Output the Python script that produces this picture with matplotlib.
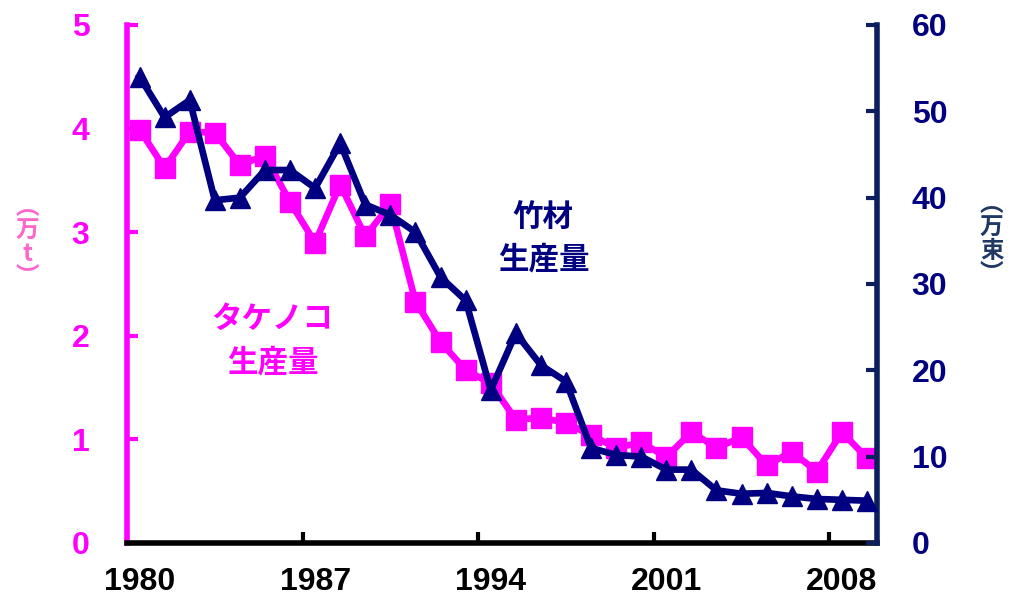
import numpy as np
import matplotlib.pyplot as plt

years = list(range(1980, 2010))
# タケノコ生産量 (万t)
takenoko = [3.99, 3.62, 3.97, 3.96, 3.65, 3.74, 3.29, 2.90, 3.46, 2.96,
            3.27, 2.33, 1.94, 1.67, 1.54, 1.19, 1.21, 1.16, 1.04, 0.92,
            0.97, 0.83, 1.07, 0.92, 1.02, 0.75, 0.88, 0.69, 1.07, 0.82]
# 竹材生産量 (万束)
chikuzai = [54.0, 49.3, 51.3, 39.7, 40.0, 43.2, 43.2, 41.1, 46.3, 39.2,
            38.0, 36.0, 30.8, 28.1, 17.7, 24.3, 20.6, 18.7, 11.0, 10.2,
            10.0, 8.5, 8.5, 6.1, 5.7, 5.8, 5.4, 5.1, 5.0, 4.9]
xtick_years = [1980, 1987, 1994, 2001, 2008]

pink = '#FF00FF'
navy = '#000080'
jp = ['Noto Sans CJK JP', 'DejaVu Sans']
num = 'Liberation Sans'

fig = plt.figure(figsize=(10.11, 6.05), dpi=100)
ax = fig.add_axes([0.1256, 0.1025, 0.7419, 0.8562])
ax2 = ax.twinx()

ax.plot(years, takenoko, color=pink, lw=4.8, marker='s', ms=15, mec=pink, mfc=pink, zorder=3)
ax2.plot(years, chikuzai, color=navy, lw=4.8, marker='^', ms=15, mec=navy, mfc=navy, zorder=3)

ax.set_xlim(1979.65, 2009.4)
ax.set_ylim(0, 5)
ax2.set_ylim(0, 60)

ax.set_yticks(range(0, 6))
ax2.set_yticks(range(0, 61, 10))
ax.set_xticks(xtick_years)
ax.set_xticks([y - 0.5 for y in xtick_years], minor=True)

for s in ['top', 'right']:
    ax.spines[s].set_visible(False)
for s in ['top', 'left', 'bottom']:
    ax2.spines[s].set_visible(False)
ax.spines['left'].set_color(pink)
ax.spines['left'].set_linewidth(4)
ax.spines['bottom'].set_color('black')
ax.spines['bottom'].set_linewidth(4)
ax2.spines['right'].set_color('#0A1F5C')
ax2.spines['right'].set_linewidth(4)

ax.tick_params(axis='y', direction='in', length=8, width=3, color=pink,
               labelcolor=pink, labelsize=23, pad=27)
ax2.tick_params(axis='y', direction='in', length=8, width=3, color='#0A1F5C',
                labelcolor=navy, labelsize=23, pad=25)
ax.tick_params(axis='x', which='major', length=0, labelsize=23, labelcolor='black', pad=17)
ax.tick_params(axis='x', which='minor', direction='in', length=8, width=3, color='black')

for lab in ax.get_yticklabels() + ax2.get_yticklabels() + ax.get_xticklabels():
    lab.set_fontfamily(num)
    lab.set_fontweight('bold')

fig.text(0.027, 0.60, '︵\n万\nt\n︶', color='#FF66CC', fontsize=17, family=jp,
         fontweight='bold', ha='center', va='center', linespacing=0.95)
fig.text(0.981, 0.605, '︵\n万\n束\n︶', color='#1F3864', fontsize=17, family=jp,
         fontweight='bold', ha='center', va='center', linespacing=0.95)

ax.text(1985.3, 1.95, 'タケノコ\n生産量', color=pink, fontsize=22, family=jp,
        fontweight='bold', ha='center', va='center', linespacing=1.45)
ax2.text(1996.1, 35.3, '竹材\n生産量', color=navy, fontsize=22, family=jp,
         fontweight='bold', ha='center', va='center', linespacing=1.45)

fig.savefig('out.png', dpi=100)
